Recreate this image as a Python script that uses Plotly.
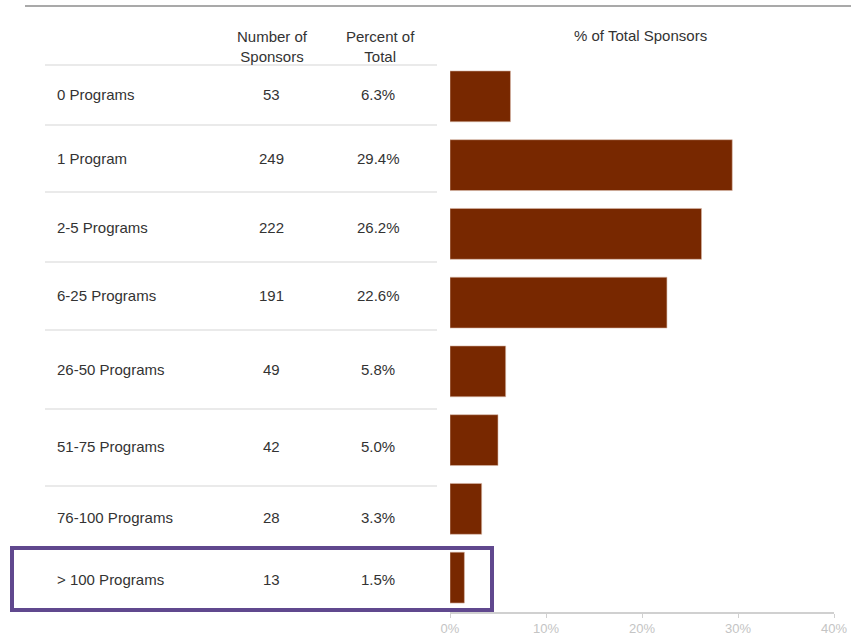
import plotly.graph_objects as go

# ---- data ----
categories = ["0 Programs", "1 Program", "2-5 Programs", "6-25 Programs",
              "26-50 Programs", "51-75 Programs", "76-100 Programs", "> 100 Programs"]
num_sponsors = [53, 249, 222, 191, 49, 42, 28, 13]
pct_total = [6.3, 29.4, 26.2, 22.6, 5.8, 5.0, 3.3, 1.5]
x_ticks = [0, 10, 20, 30, 40]

# ---- layout helpers (pixel geometry) ----
W, H = 851, 635
def px(x): return x / W
def py(y): return 1 - y / H

row_text_y = [95, 158, 227, 295, 369, 447, 517, 579]
sep_y = [65, 125, 192, 262, 330, 409, 486, 548]

BAR = "#782800"
TXT = "#333333"
FONT = "Liberation Sans, Arial, sans-serif"

fig = go.Figure()
fig.add_trace(go.Bar(
    x=pct_total, y=categories, orientation="h",
    marker=dict(color=BAR, line=dict(color="#d9b8a8", width=0.6)),
    width=0.74, hoverinfo="skip", showlegend=False,
))

annotations = []
for i, cat in enumerate(categories):
    yy = py(row_text_y[i])
    annotations.append(dict(x=px(55), y=yy, xref="paper", yref="paper", text=cat,
                            showarrow=False, xanchor="left", yanchor="middle",
                            font=dict(size=15, color=TXT, family=FONT)))
    annotations.append(dict(x=px(271), y=yy, xref="paper", yref="paper", text=str(num_sponsors[i]),
                            showarrow=False, xanchor="center", yanchor="middle",
                            font=dict(size=15, color=TXT, family=FONT)))
    annotations.append(dict(x=px(378), y=yy, xref="paper", yref="paper", text=f"{pct_total[i]:.1f}%",
                            showarrow=False, xanchor="center", yanchor="middle",
                            font=dict(size=15, color=TXT, family=FONT)))

annotations.append(dict(x=px(272), y=py(46), xref="paper", yref="paper",
                        text="Number of<br>Sponsors", showarrow=False,
                        xanchor="center", yanchor="middle", align="center",
                        font=dict(size=15, color=TXT, family=FONT)))
annotations.append(dict(x=px(380), y=py(46), xref="paper", yref="paper",
                        text="Percent of<br>Total", showarrow=False,
                        xanchor="center", yanchor="middle", align="center",
                        font=dict(size=15, color=TXT, family=FONT)))
annotations.append(dict(x=px(640), y=py(35), xref="paper", yref="paper",
                        text="% of Total Sponsors", showarrow=False,
                        xanchor="center", yanchor="middle",
                        font=dict(size=15, color=TXT, family=FONT)))

shapes = []
for s in sep_y:
    shapes.append(dict(type="line", xref="paper", yref="paper",
                       x0=px(45), x1=px(437), y0=py(s), y1=py(s),
                       line=dict(color="#e3e3e3", width=1.5)))
# top rule
shapes.append(dict(type="line", xref="paper", yref="paper",
                   x0=px(25), x1=px(851), y0=py(6), y1=py(6),
                   line=dict(color="#555555", width=1.2)))
# highlight box
shapes.append(dict(type="rect", xref="paper", yref="paper",
                   x0=px(12), x1=px(492), y0=py(548), y1=py(610),
                   line=dict(color="#60488e", width=4)))

fig.update_layout(
    width=W, height=H,
    margin=dict(l=0, r=0, t=0, b=0),
    paper_bgcolor="white", plot_bgcolor="white",
    xaxis=dict(domain=[px(450), px(834)], range=[0, 40], tickvals=x_ticks,
               ticktext=[f"{t}%" for t in x_ticks], showgrid=False, zeroline=False,
               showline=True, linecolor="#d0d0d0", linewidth=1.5,
               ticks="outside", ticklen=4, tickcolor="#d0d0d0", automargin=False,
               tickfont=dict(size=13, color="#c4c4c4", family=FONT)),
    yaxis=dict(domain=[py(612), py(62)], type="category",
               categoryorder="array", categoryarray=categories,
               range=[7.5, -0.5], showticklabels=False, showgrid=False,
               zeroline=False, showline=False, ticks="", automargin=False),
    annotations=annotations, shapes=shapes,
    font=dict(family=FONT),
)

fig.write_html("out.html", config={"displayModeBar": False},
               post_script="document.body.style.margin='0';document.body.style.overflow='hidden';")
